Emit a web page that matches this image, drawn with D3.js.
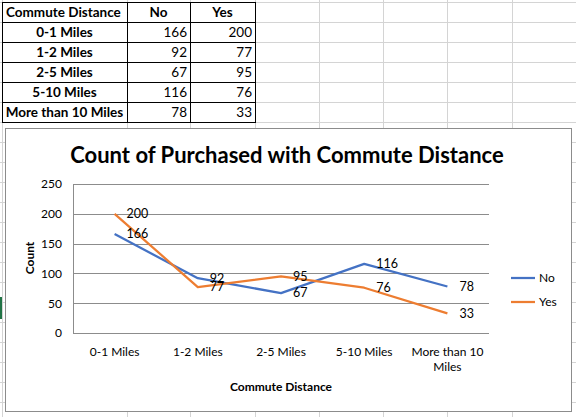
<!DOCTYPE html>
<html>
<head>
  <meta charset="utf-8">
  <title>Count of Purchased with Commute Distance</title>
  <script src="https://d3js.org/d3.v7.min.js"></script>
  <style>
    body { margin: 0; background: #fff; }
    svg { display: block; font-family: Lato, "Open Sans", sans-serif; }
  </style>
</head>
<body>
  <svg width="576" height="417"></svg>
  <script>
const categories = ['0-1 Miles', '1-2 Miles', '2-5 Miles', '5-10 Miles', 'More than 10 Miles'];
const noValues = [166, 92, 67, 116, 78];
const yesValues = [200, 77, 95, 76, 33];
const seriesNames = ['No', 'Yes'];
const yTicks = [0, 50, 100, 150, 200, 250];
const tableHeader = ['Commute Distance', 'No', 'Yes'];

const W = 576, H = 417;
const svg = d3.select('svg');

// --- spreadsheet background grid
const colEdges = [2, 127, 190, 255, 319, 383, 447, 512, 576];
const rowH = 20, rowTop = 1.5;
const grid = svg.append('g').attr('stroke', '#d4d4d4').attr('shape-rendering', 'crispEdges');
grid.selectAll('line.v').data(colEdges).join('line')
  .attr('x1', d => d + 0.5).attr('x2', d => d + 0.5)
  .attr('y1', 0).attr('y2', H);
grid.selectAll('line.h').data(d3.range(0, 21)).join('line')
  .attr('x1', 0).attr('x2', W)
  .attr('y1', i => rowTop + i * rowH + 0.5).attr('y2', i => rowTop + i * rowH + 0.5);
// selected-cell marker on the left edge
svg.append('rect').attr('x', 0).attr('y', 297).attr('width', 2).attr('height', 22).attr('fill', '#217346');

// --- data table
const table = svg.append('g').attr('font-size', 13.5);
const rows = categories.map((c, i) => [c, noValues[i], yesValues[i]]);
const rowY = i => rowTop + i * rowH;
const tb = table.append('g').attr('stroke', '#000').attr('shape-rendering', 'crispEdges');
[0, 1, 2, 3].forEach(j => {
  tb.append('line').attr('x1', colEdges[j] + 0.5).attr('x2', colEdges[j] + 0.5)
    .attr('y1', rowY(0)).attr('y2', rowY(rows.length + 1));
});
d3.range(0, rows.length + 2).forEach(i => {
  tb.append('line').attr('x1', colEdges[0]).attr('x2', colEdges[3] + 1)
    .attr('y1', rowY(i) + 0.5).attr('y2', rowY(i) + 0.5);
});
table.append('text').attr('x', 6).attr('y', rowY(0) + 15).attr('font-weight', 'bold').text(tableHeader[0]);
[1, 2].forEach(j => {
  table.append('text').attr('x', (colEdges[j] + colEdges[j + 1]) / 2).attr('y', rowY(0) + 15)
    .attr('text-anchor', 'middle').attr('font-weight', 'bold').text(tableHeader[j]);
});
rows.forEach((r, i) => {
  const y = rowY(i + 1) + 15;
  table.append('text').attr('x', (colEdges[0] + colEdges[1]) / 2).attr('y', y)
    .attr('text-anchor', 'middle').attr('font-weight', 'bold').text(r[0]);
  table.append('text').attr('x', colEdges[2] - 3).attr('y', y).attr('text-anchor', 'end').text(r[1]);
  table.append('text').attr('x', colEdges[3] - 3).attr('y', y).attr('text-anchor', 'end').text(r[2]);
});

// --- chart object
const chart = svg.append('g');
chart.append('rect').attr('x', 5.5).attr('y', 128.5).attr('width', 566).attr('height', 283)
  .attr('fill', '#fff').attr('stroke', '#8c8c8c');

chart.append('text').attr('x', 287).attr('y', 163).attr('text-anchor', 'middle')
  .attr('font-size', 22).attr('font-weight', 'bold').attr('fill', '#000')
  .text('Count of Purchased with Commute Distance');

const x = d3.scaleBand().domain(categories).range([73, 489]);
const y = d3.scaleLinear().domain([0, 250]).range([333, 184]);
const cx = c => x(c) + x.bandwidth() / 2;

// gridlines
chart.append('g').attr('shape-rendering', 'crispEdges').selectAll('line').data(yTicks).join('line')
  .attr('x1', 73).attr('x2', 489)
  .attr('y1', d => Math.round(y(d)) + 0.5).attr('y2', d => Math.round(y(d)) + 0.5)
  .attr('stroke', '#8c8c8c');
chart.append('line').attr('shape-rendering', 'crispEdges')
  .attr('x1', 73.5).attr('x2', 73.5).attr('y1', y(250)).attr('y2', y(0))
  .attr('stroke', '#8c8c8c');

// y axis labels
const yAxis = d3.axisLeft(y).tickValues(yTicks).tickSize(0).tickPadding(11);
chart.append('g').attr('transform', 'translate(73,0)').call(yAxis)
  .call(g => g.select('.domain').remove())
  .selectAll('text').attr('font-family', 'Lato, sans-serif').attr('font-size', 12).attr('fill', '#000');

// x axis labels with wrapping
const xAxis = d3.axisBottom(x).tickSize(0).tickPadding(14);
const xg = chart.append('g').attr('transform', 'translate(0,333)').call(xAxis);
xg.select('.domain').remove();
xg.selectAll('text').attr('font-family', 'Lato, sans-serif').attr('font-size', 12).attr('fill', '#000')
  .each(function (d) {
    const t = d3.select(this);
    const words = d.split(' ');
    const maxW = x.bandwidth() - 6;
    t.text(null);
    let line = [];
    let tspan = t.append('tspan').attr('x', 0);
    words.forEach(w => {
      line.push(w);
      tspan.text(line.join(' '));
      if (tspan.node().getComputedTextLength() > maxW && line.length > 1) {
        line.pop();
        tspan.text(line.join(' '));
        line = [w];
        tspan = t.append('tspan').attr('x', 0).attr('dy', '1.25em').text(w);
      }
    });
  });

// axis titles
chart.append('text').attr('transform', 'translate(34,258) rotate(-90)').attr('text-anchor', 'middle')
  .attr('font-size', 12).attr('font-weight', 'bold').text('Count');
chart.append('text').attr('x', 281).attr('y', 391).attr('text-anchor', 'middle')
  .attr('font-size', 12).attr('font-weight', 'bold').text('Commute Distance');

// lines
const colors = ['#4472C4', '#ED7D31'];
const series = [noValues, yesValues];
const line = d3.line().x((d, i) => cx(categories[i])).y(d => y(d));
series.forEach((vals, k) => {
  chart.append('path').datum(vals).attr('d', line).attr('fill', 'none')
    .attr('stroke', colors[k]).attr('stroke-width', 2.25).attr('stroke-linejoin', 'round');
});
series.forEach((vals, k) => {
  chart.append('g').selectAll('text').data(vals).join('text')
    .attr('x', (d, i) => cx(categories[i]) + 12).attr('y', d => y(d))
    .attr('dy', '0.35em').attr('font-size', 12.5).attr('fill', '#000').text(d => d);
});

// legend
const legend = chart.append('g');
seriesNames.forEach((n, k) => {
  const ly = 278 + k * 24;
  legend.append('line').attr('x1', 511).attr('x2', 535).attr('y1', ly).attr('y2', ly)
    .attr('stroke', colors[k]).attr('stroke-width', 2.25);
  legend.append('text').attr('x', 539).attr('y', ly).attr('dy', '0.35em')
    .attr('font-size', 12).attr('fill', '#000').text(n);
});
  </script>
</body>
</html>
